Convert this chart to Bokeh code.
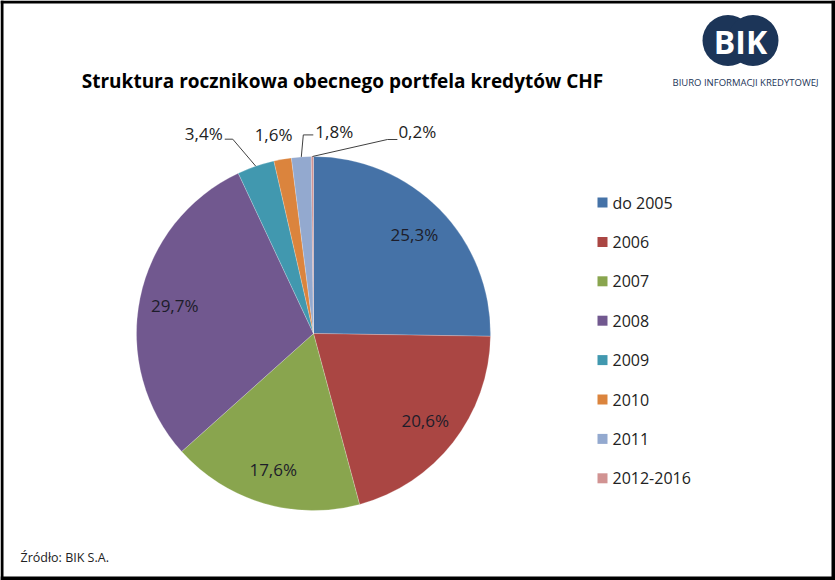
import numpy as np
from bokeh.plotting import figure
from bokeh.models import Range1d, ColumnDataSource
from bokeh.embed import file_html
from bokeh.resources import INLINE
from bokeh.core.properties import value

# Share of current CHF loan portfolio by origination year (%)
categories = ["do 2005", "2006", "2007", "2008", "2009", "2010", "2011", "2012-2016"]
shares = [25.3, 20.6, 17.6, 29.7, 3.4, 1.6, 1.8, 0.2]
colors = ["#4572A7", "#AA4643", "#89A54E", "#71588F",
          "#4198AF", "#DB843D", "#93A9CF", "#D19392"]

title_text = "Struktura rocznikowa obecnego portfela kredytów CHF"
source_text = "Źródło: BIK S.A."

W, H = 835, 580
FONT = value("Open Sans")
TXT = "#222222"


def Y(y):
    # page coordinates are measured from the top
    return H - y


p = figure(width=W, height=H, x_range=Range1d(0, W), y_range=Range1d(0, H),
           output_backend="svg", toolbar_location=None, min_border=0,
           x_axis_location=None, y_axis_location=None)
p.grid.visible = False
p.outline_line_color = None
p.background_fill_color = "white"
p.border_fill_color = "white"

# ---- pie ----
cx, cy, R = 313, Y(333), 177
vals = np.array(shares, dtype=float)
frac = vals / vals.sum()
cum = np.cumsum(frac)
start = np.pi / 2 - 2 * np.pi * (cum - frac)
end = np.pi / 2 - 2 * np.pi * cum
mid = np.pi / 2 - 2 * np.pi * (cum - frac / 2)
pct = [f"{v:.1f}%".replace(".", ",") for v in shares]

src = ColumnDataSource(dict(x=[cx] * len(vals), y=[cy] * len(vals),
                            start=start, end=end, color=colors))
p.wedge(x="x", y="y", radius=R, radius_units="screen",
        start_angle="start", end_angle="end", direction="clock",
        fill_color="color", line_color="white", line_width=0.3,
        line_alpha=0.7, source=src)

# labels inside the large slices
big = [i for i, v in enumerate(shares) if v >= 10]
p.text(x=[cx + 0.8 * R * np.cos(mid[i]) for i in big],
       y=[cy + 0.8 * R * np.sin(mid[i]) for i in big],
       text=[pct[i] for i in big], text_font=FONT, text_font_size="17px",
       text_color="#1d1d2a", text_align="center", text_baseline="middle")

# labels outside the small slices with leader lines
# (elbow offset, line-end offset, text offset, text alignment) from the arc point
small_style = {
    4: ((-23, -27), (-31, -27), (-33, -33), "right"),
    5: (None, None, (-9, -25), "center"),
    6: ((2, -22), (12, -22), (14, -25), "left"),
    7: ((75, -17), (85, -17), (86, -25), "left"),
}
for i, (elbow, lend, toff, align) in small_style.items():
    ax = cx + R * np.cos(mid[i])
    ay = cy + R * np.sin(mid[i])
    if elbow is not None:
        p.line(x=[ax, ax + elbow[0], ax + lend[0]],
               y=[ay, ay - elbow[1], ay - lend[1]],
               line_color="#404040", line_width=1)
    p.text(x=[ax + toff[0]], y=[ay - toff[1]], text=[pct[i]],
           text_font=FONT, text_font_size="17px", text_color=TXT,
           text_align=align, text_baseline="middle")

# ---- legend ----
ly0, ldy = 202, 39.4
ly = [Y(ly0 + ldy * k) for k in range(len(categories))]
p.rect(x=[602] * len(categories), y=ly, width=10, height=10,
       width_units="screen", height_units="screen",
       fill_color=colors, line_color=None)
p.text(x=[612] * len(categories), y=ly, text=categories, text_font=FONT,
       text_font_size="16px", text_color=TXT, text_baseline="middle")

# ---- title and source ----
p.text(x=[342], y=[Y(80)], text=[title_text], text_font=FONT,
       text_font_size="19px", text_font_style="bold", text_color="#000000",
       text_align="center", text_baseline="middle")
p.text(x=[20], y=[Y(557)], text=[source_text], text_font=FONT,
       text_font_size="12.5px", text_color=TXT, text_baseline="middle")

# ---- BIK logo ----
NAVY = "#1c3558"
p.circle(x=[727.5, 752.5], y=[Y(40), Y(40)], radius=25.5,
         radius_units="screen", fill_color=NAVY, line_color=None)
p.text(x=[740], y=[Y(41)], text=["BIK"], text_font=FONT,
       text_font_size="32px", text_font_style="bold", text_color="white",
       text_align="center", text_baseline="middle")
p.text(x=[745], y=[Y(82)], text=["BIURO INFORMACJI KREDYTOWEJ"],
       text_font=FONT, text_font_size="9.5px", text_color=NAVY,
       text_align="center", text_baseline="middle")

# ---- black frame around the page ----
t = 3
p.quad(left=[0, 0, 0, W - t - 1], right=[t, W, W, W],
       bottom=[0, 0, H - t, 0], top=[H, t + 1, H, H],
       fill_color="black", line_color=None)

open("out.html", "w").write(file_html(p, INLINE))
